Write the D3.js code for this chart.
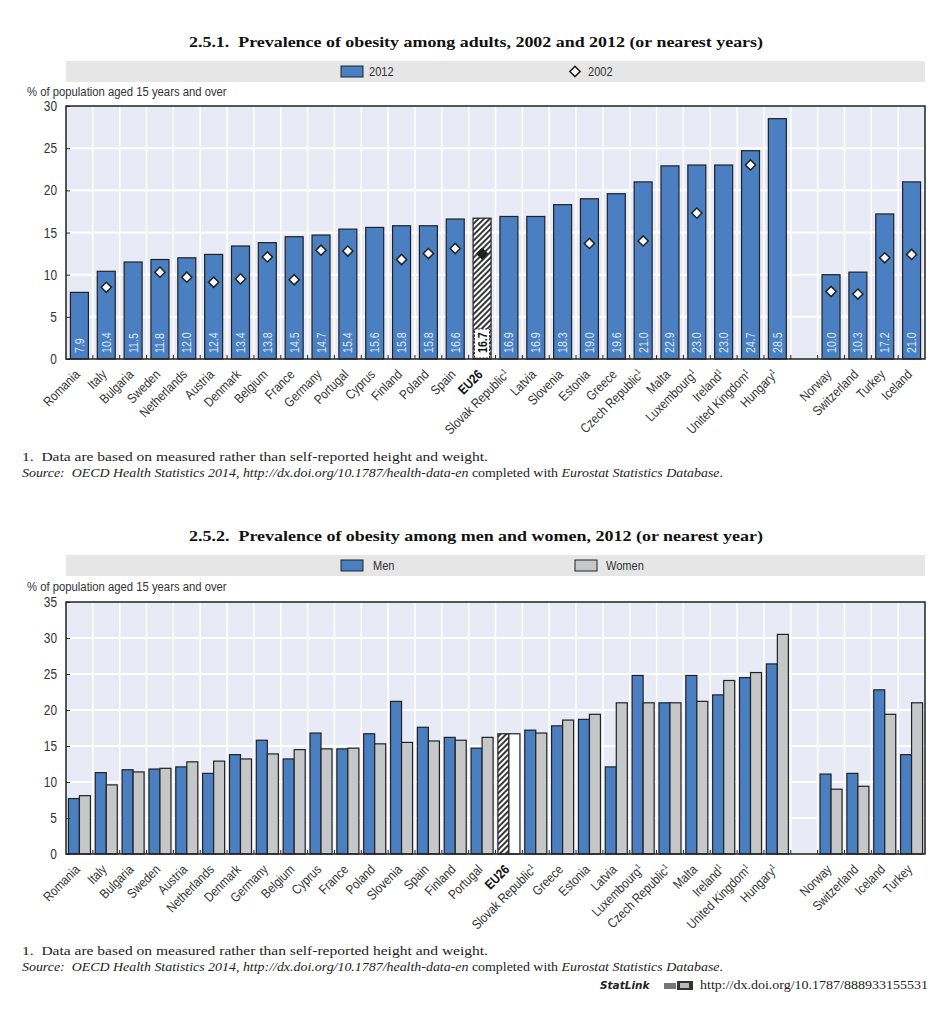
<!DOCTYPE html>
<html><head><meta charset="utf-8">
<script src="https://cdnjs.cloudflare.com/ajax/libs/d3/7.8.5/d3.min.js"></script>
<style>body{margin:0;background:#fff} svg{display:block}</style>
</head><body>
<script>
// ---------- DATA ----------
const countries1 = ["Romania","Italy","Bulgaria","Sweden","Netherlands","Austria","Denmark","Belgium","France","Germany","Portugal","Cyprus","Finland","Poland","Spain","EU26","Slovak Republic","Latvia","Slovenia","Estonia","Greece","Czech Republic","Malta","Luxembourg","Ireland","United Kingdom","Hungary","_gap","Norway","Switzerland","Turkey","Iceland"];
const values2012 = [7.9,10.4,11.5,11.8,12.0,12.4,13.4,13.8,14.5,14.7,15.4,15.6,15.8,15.8,16.6,16.7,16.9,16.9,18.3,19.0,19.6,21.0,22.9,23.0,23.0,24.7,28.5,null,10.0,10.3,17.2,21.0];
const values2002 = [null,8.5,null,10.3,9.7,9.1,9.5,12.1,9.4,12.9,12.8,null,11.8,12.5,13.1,12.5,null,null,null,13.7,null,14.0,null,17.3,null,23.0,null,null,8.0,7.7,12.0,12.4];

const countries2 = ["Romania","Italy","Bulgaria","Sweden","Austria","Netherlands","Denmark","Germany","Belgium","Cyprus","France","Poland","Slovenia","Spain","Finland","Portugal","EU26","Slovak Republic","Greece","Estonia","Latvia","Luxembourg","Czech Republic","Malta","Ireland","United Kingdom","Hungary","_gap","Norway","Switzerland","Iceland","Turkey"];
const men   = [7.7,11.3,11.7,11.8,12.1,11.2,13.8,15.8,13.2,16.8,14.6,16.7,21.2,17.6,16.2,14.7,16.7,17.2,17.8,18.7,12.1,24.8,21.0,24.8,22.1,24.5,26.4,null,11.1,11.2,22.8,13.8];
const women = [8.1,9.6,11.4,11.9,12.8,12.9,13.2,13.9,14.5,14.6,14.7,15.3,15.5,15.7,15.8,16.2,16.7,16.8,18.6,19.4,21.0,21.0,21.0,21.2,24.1,25.2,30.5,null,9.0,9.4,19.4,21.0];

const footnoted = ["Slovak Republic","Czech Republic","Luxembourg","Ireland","United Kingdom","Hungary"];
const yTicks1 = [0,5,10,15,20,25,30];
const yTicks2 = [0,5,10,15,20,25,30,35];

const title1 = "2.5.1.\u00a0 Prevalence of obesity among adults, 2002 and 2012 (or nearest years)";
const title2 = "2.5.2.\u00a0 Prevalence of obesity among men and women, 2012 (or nearest year)";
const yLabel = "% of population aged 15 years and over";
const legend1 = ["2012","2002"];
const legend2 = ["Men","Women"];
const note1 = "1.\u00a0 Data are based on measured rather than self-reported height and weight.";

// ---------- STYLE ----------
const BLUE = "#4a7fc2", GRAY = "#c6c7c9", DARK = "#222", BG = "#e8ebf5";
const SANS = "'Liberation Sans',Arial,sans-serif";
const SERIF = "'Liberation Serif','DejaVu Serif',serif";
const NARROW = 0.85;
const L = 66, R = 925;

const svg = d3.select("body").append("svg").attr("width", 950).attr("height", 1013);
const defs = svg.append("defs");
const pat = defs.append("pattern").attr("id","hatch").attr("patternUnits","userSpaceOnUse")
  .attr("width",4).attr("height",4).attr("patternTransform","rotate(45)");
pat.append("rect").attr("width",4).attr("height",4).attr("fill","#fff");
pat.append("line").attr("x1",1).attr("y1",0).attr("x2",1).attr("y2",4).attr("stroke","#222").attr("stroke-width",1.8);

// narrow sans text helper (Arial-Narrow-like by horizontal scaling)
function ntext(parent, x, y, str, o = {}) {
  const t = parent.append("text")
    .attr("transform", `translate(${x},${y})${o.rot?` rotate(${o.rot})`:""} scale(${NARROW},1)`)
    .attr("font-family", SANS).attr("font-size", o.size || 13)
    .attr("fill", o.fill || "#333")
    .attr("text-anchor", o.anchor || "start");
  if (o.dy) t.attr("dy", o.dy);
  if (o.weight) t.attr("font-weight", o.weight);
  if (str != null) t.text(str);
  return t;
}

function title(text, y) {
  svg.append("text").attr("x", 476).attr("y", y).attr("text-anchor","middle")
    .attr("font-family", SERIF).attr("font-weight","bold").attr("font-size",15.5)
    .attr("textLength",574).attr("lengthAdjust","spacingAndGlyphs").attr("fill","#111").text(text);
}

function legendBand(y, items) {
  svg.append("rect").attr("x",L).attr("y",y).attr("width",R-L).attr("height",21).attr("fill","#e6e6e6");
  items.forEach((t,i)=>{
    if (t === "2002") {
      svg.append("path").attr("d", d3.symbol(d3.symbolSquare, 52)())
        .attr("transform",`translate(575,${y+10.5}) rotate(45)`)
        .attr("fill","#fff").attr("stroke",DARK).attr("stroke-width",1.5);
      ntext(svg, 588, y+15, t, {size:13});
    } else {
      const bx = i===0 ? 341 : 575;
      svg.append("rect").attr("x",bx).attr("y",y+5).attr("width",22).attr("height",11)
        .attr("fill", i===0?BLUE:GRAY).attr("stroke",DARK).attr("stroke-width",1);
      ntext(svg, i===0 ? (t==="2012"?369:373) : 606, y+15, t, {size:13});
    }
  });
}

function frame(top, bottom, yMax, ticks, domain, pi) {
  const g = svg.append("g");
  const y = d3.scaleLinear().domain([0,yMax]).range([bottom, top]);
  const x = d3.scaleBand().domain(domain).range([L,R]).paddingInner(pi).paddingOuter(pi/2);
  g.append("rect").attr("x",L).attr("y",top).attr("width",R-L).attr("height",bottom-top).attr("fill",BG);
  g.selectAll(".hg").data(ticks.filter(t=>t>0 && t<yMax)).join("line")
    .attr("x1",L).attr("x2",R).attr("y1",d=>y(d)).attr("y2",d=>y(d)).attr("stroke","#fff").attr("stroke-width",2);
  const step = x.step();
  g.selectAll(".vg").data(d3.range(1,domain.length)).join("line")
    .attr("x1",i=>L+i*step).attr("x2",i=>L+i*step).attr("y1",top).attr("y2",bottom)
    .attr("stroke","#fff").attr("stroke-width",1.5);
  return {x,y,top,bottom,ticks,domain,step};
}

function finishAxes(c, label, labelY) {
  const {x,y,top,bottom,ticks,domain,step} = c;
  // y axis ticks (inward) + labels
  const ax = svg.append("g").attr("transform",`translate(${L},0)`)
    .call(d3.axisLeft(y).tickValues(ticks).tickSize(-4).tickFormat(""));
  ax.select(".domain").remove();
  ax.selectAll("line").attr("stroke",DARK);
  ticks.forEach(t => ntext(svg, L-9, y(t), String(t), {size:14, anchor:"end", dy:"0.36em"}));
  // bottom boundary ticks
  svg.append("g").selectAll("line").data(d3.range(1,domain.length)).join("line")
    .attr("x1",i=>L+i*step).attr("x2",i=>L+i*step).attr("y1",bottom).attr("y2",bottom-4)
    .attr("stroke",DARK).attr("stroke-width",1);
  // frame
  svg.append("rect").attr("x",L).attr("y",top).attr("width",R-L).attr("height",bottom-top)
    .attr("fill","none").attr("stroke",DARK).attr("stroke-width",1.5);
  // y label
  ntext(svg, 27, labelY, label, {size:13.3});
  // x labels
  const xl = svg.append("g");
  domain.filter(d=>d!=="_gap").forEach(d=>{
    const cx = x(d) + x.bandwidth()/2;
    const t = ntext(xl, cx-2, bottom+13, null, {rot:-45, anchor:"end", dy:"0.35em", size:13.3,
      fill: d==="EU26"?"#111":"#333", weight: d==="EU26"?"bold":null});
    t.append("tspan").text(d);
    if (footnoted.includes(d)) t.append("tspan").attr("font-size",8).attr("dy","-0.6em").text("1");
  });
}

function footnotes(y) {
  svg.append("text").attr("x",22).attr("y",y).attr("font-family",SERIF).attr("font-size",12.5)
    .attr("fill","#222").attr("textLength",466).attr("lengthAdjust","spacingAndGlyphs").text(note1);
  const s = svg.append("text").attr("x",22).attr("y",y+16).attr("font-family",SERIF).attr("font-size",12.5)
    .attr("fill","#222").attr("textLength",701).attr("lengthAdjust","spacingAndGlyphs");
  s.append("tspan").attr("font-style","italic").text("Source:\u00a0 OECD Health Statistics 2014, http://dx.doi.org/10.1787/health-data-en");
  s.append("tspan").text(" completed with ");
  s.append("tspan").attr("font-style","italic").text("Eurostat Statistics Database");
  s.append("tspan").text(".");
}

// ---------- CHART 1 ----------
title(title1, 47);
legendBand(61, legend1);
const c1 = frame(106, 359, 30, yTicks1, countries1, 0.33);
const d1 = countries1.map((c,i)=>({c, v:values2012[i], p:values2002[i]})).filter(d=>d.v!=null);
svg.append("g").selectAll("rect").data(d1).join("rect")
  .attr("x",d=>c1.x(d.c)).attr("width",c1.x.bandwidth())
  .attr("y",d=>c1.y(d.v)).attr("height",d=>c1.y(0)-c1.y(d.v))
  .attr("fill",d=>d.c==="EU26"?"url(#hatch)":BLUE).attr("stroke",DARK).attr("stroke-width",1.2);
// value labels
const vl = svg.append("g");
d1.forEach(d=>{
  const cx = c1.x(d.c)+c1.x.bandwidth()/2;
  const txt = d3.format(".1f")(d.v);
  if (d.c==="EU26") {
    vl.append("rect").attr("x",cx-7.5).attr("y",c1.y(0)-30).attr("width",15).attr("height",29)
      .attr("fill","#fff").attr("stroke",DARK).attr("stroke-width",1).attr("stroke-dasharray","2,1.5");
  }
  ntext(vl, cx, c1.y(0)-6, txt, {rot:-90, dy:"0.36em", size:12.5,
    weight: d.c==="EU26"?"bold":null, fill: d.c==="EU26"?"#111":"#dfe8f6"});
});
// 2002 diamonds
svg.append("g").selectAll("path").data(d1.filter(d=>d.p!=null)).join("path")
  .attr("d", d3.symbol(d3.symbolSquare, 52)())
  .attr("transform",d=>`translate(${c1.x(d.c)+c1.x.bandwidth()/2},${c1.y(d.p)}) rotate(45)`)
  .attr("fill",d=>d.c==="EU26"?"#222":"#fff").attr("stroke",DARK).attr("stroke-width",1.5);
finishAxes(c1, yLabel, 95.5);
footnotes(461);

// ---------- CHART 2 ----------
title(title2, 541);
legendBand(555, legend2);
const c2 = frame(602, 854, 35, yTicks2, countries2, 0.18);
const inner = d3.scaleBand().domain(["men","women"]).range([0, c2.x.bandwidth()]);
const d2 = countries2.map((c,i)=>({c, m:men[i], w:women[i]})).filter(d=>d.m!=null);
const grp = svg.append("g").selectAll("g").data(d2).join("g").attr("transform",d=>`translate(${c2.x(d.c)},0)`);
grp.append("rect").attr("x",inner("men")).attr("width",inner.bandwidth())
  .attr("y",d=>c2.y(d.m)).attr("height",d=>c2.y(0)-c2.y(d.m))
  .attr("fill",d=>d.c==="EU26"?"url(#hatch)":BLUE).attr("stroke",DARK).attr("stroke-width",1.2);
grp.append("rect").attr("x",inner("women")).attr("width",inner.bandwidth())
  .attr("y",d=>c2.y(d.w)).attr("height",d=>c2.y(0)-c2.y(d.w))
  .attr("fill",d=>d.c==="EU26"?"#fff":GRAY).attr("stroke",DARK).attr("stroke-width",1.2);
finishAxes(c2, yLabel, 590.5);
footnotes(955);

// StatLink
svg.append("text").attr("x",600).attr("y",989).attr("font-family","'DejaVu Sans',sans-serif")
  .attr("font-weight","bold").attr("font-style","italic").attr("font-size",10.5).attr("fill","#222").text("StatLink");
const ic = svg.append("g").attr("transform","translate(664,981)");
ic.append("rect").attr("x",0).attr("y",2).attr("width",12).attr("height",6).attr("fill","#777");
ic.append("rect").attr("x",13).attr("y",0).attr("width",16).attr("height",9).attr("fill","#333");
ic.append("rect").attr("x",16).attr("y",2).attr("width",9).attr("height",5).attr("fill","#bbb");
svg.append("text").attr("x",928).attr("y",989).attr("text-anchor","end").attr("font-family",SERIF)
  .attr("font-size",12.5).attr("fill","#222").attr("textLength",228).attr("lengthAdjust","spacingAndGlyphs")
  .text("http://dx.doi.org/10.1787/888933155531");
</script>
</body></html>
